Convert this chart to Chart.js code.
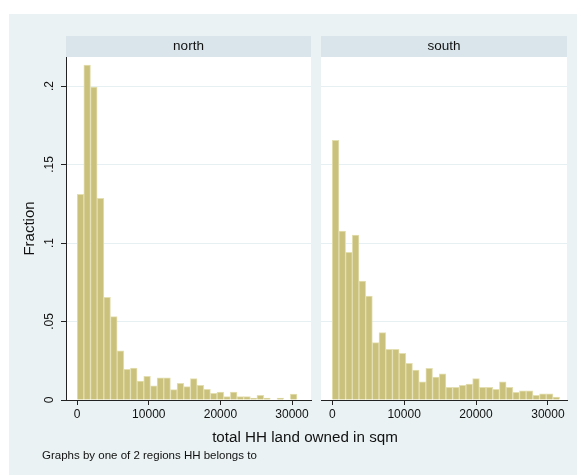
<!DOCTYPE html>
<html>
<head>
<meta charset="utf-8">
<script src="https://cdn.jsdelivr.net/npm/chart.js@4/dist/chart.umd.min.js"></script>
<style>
  body { margin: 0; background: #fff; }
  #frame {
    position: absolute; left: 9px; top: 14px; width: 568px; height: 461px;
    background: #eaf2f3; font-family: "Liberation Sans", Arial, sans-serif; color: #111;
  }
  canvas { position: absolute; top: 0; }
  #northChart { left: 0; }
  #southChart { left: 312px; }
  #xtitle { position: absolute; left: 0; width: 592px; top: 414px; text-align: center; font-size: 15.2px; }
  #note { position: absolute; left: 33px; top: 435px; font-size: 11.5px; }
</style>
</head>
<body>
<div id="frame">
  <canvas id="northChart" width="307" height="420"></canvas>
  <canvas id="southChart" width="256" height="420"></canvas>
  <div id="xtitle">total HH land owned in sqm</div>
  <div id="note">Graphs by one of 2 regions HH belongs to</div>
</div>
<script>
// histogram bins: 34 bins of equal width starting at 0 sqm
var binStart = 0, binWidth = 930, binCount = 34;
var regions = ['north', 'south'];
// fraction of households in each bin
var northFrac = [0.131, 0.2134, 0.1994, 0.1285, 0.0654, 0.0531, 0.0314, 0.0195, 0.0204, 0.0121,
  0.0151, 0.0091, 0.0142, 0.0142, 0.0066, 0.0106, 0.0085, 0.0136, 0.0093, 0.0068,
  0.0042, 0.0051, 0.0021, 0.0051, 0.0021, 0.0021, 0.0013, 0.003, 0.0013, 0,
  0.0013, 0, 0.0038, 0];
var southFrac = [0.1654, 0.1076, 0.0941, 0.1051, 0.0758, 0.0662, 0.0365, 0.0429, 0.0323, 0.0323,
  0.0297, 0.0234, 0.0191, 0.0115, 0.0202, 0.0146, 0.0166, 0.0081, 0.0081, 0.0094,
  0.0102, 0.0136, 0.0081, 0.0081, 0.0068, 0.0115, 0.0081, 0.0049, 0.0059, 0.0059,
  0.003, 0.004, 0.004, 0.0019];
var xTicks = [0, 10000, 20000, 30000];
var yTicks = [0, 0.05, 0.1, 0.15, 0.2];
var yTickLabels = ['0', '.05', '.1', '.15', '.2'];

var FONT = '"Liberation Sans", Arial, sans-serif';
var INK = '#111';

var binMids = [];
for (var i = 0; i < binCount; i++) binMids.push(binStart + (i + 0.5) * binWidth);

// white plot area plus the grey strip with the region name on top
var panelStrip = {
  id: 'panelStrip',
  beforeDraw: function (chart, args, opts) {
    var a = chart.chartArea, ctx = chart.ctx;
    ctx.save();
    ctx.fillStyle = '#fff';
    ctx.fillRect(a.left, a.top, a.right - a.left, a.bottom - a.top);
    ctx.fillStyle = '#d9e5ea';
    ctx.fillRect(a.left, a.top - 21, a.right - a.left, 21);
    ctx.fillStyle = INK;
    ctx.font = '13.5px ' + FONT;
    ctx.textAlign = 'center';
    ctx.textBaseline = 'middle';
    ctx.fillText(opts.text, (a.left + a.right) / 2, a.top - 10.5);
    ctx.restore();
  }
};

function makePanel(canvasId, name, values, showY) {
  var pts = values.map(function (v, i) { return { x: binMids[i], y: v }; });
  return new Chart(document.getElementById(canvasId), {
    type: 'bar',
    data: {
      datasets: [{
        data: pts,
        backgroundColor: 'rgb(201,193,124)',
        borderColor: 'rgb(228,223,178)',
        borderWidth: 1,
        barPercentage: 1,
        categoryPercentage: 1
      }]
    },
    plugins: [panelStrip],
    options: {
      responsive: false,
      animation: false,
      events: [],
      layout: { padding: { top: 43, left: 0, right: showY ? 5 : 10, bottom: 0 } },
      plugins: {
        legend: { display: false },
        tooltip: { enabled: false },
        panelStrip: { text: name }
      },
      scales: {
        x: {
          type: 'linear',
          min: -1560,
          max: 32650,
          offset: false,
          afterBuildTicks: function (s) { s.ticks = xTicks.map(function (v) { return { value: v }; }); },
          afterFit: function (s) { s.height = 34; },
          ticks: {
            autoSkip: false, maxRotation: 0, padding: 2, color: INK,
            font: { family: FONT, size: 12 },
            callback: function (v) { return String(v); }
          },
          grid: { offset: false, drawOnChartArea: false, tickLength: 5, tickColor: '#222' },
          border: { color: '#222', width: 1 }
        },
        y: {
          min: 0,
          max: 0.2185,
          afterBuildTicks: function (s) { s.ticks = yTicks.map(function (v) { return { value: v }; }); },
          afterFit: function (s) { s.width = showY ? 57 : 0; },
          ticks: {
            display: showY, minRotation: 90, maxRotation: 90, crossAlign: 'center', padding: 3,
            color: INK, font: { family: FONT, size: 12 },
            callback: function (v) { return yTickLabels[yTicks.indexOf(v)]; }
          },
          grid: { color: '#e6eff1', lineWidth: 1, drawTicks: showY, tickLength: 5, tickColor: '#222' },
          border: { display: showY, color: '#222', width: 1 },
          title: {
            display: showY, text: 'Fraction', color: INK,
            font: { family: FONT, size: 15 }, padding: { top: 12, bottom: 0 }
          }
        }
      }
    }
  });
}

makePanel('northChart', regions[0], northFrac, true);
makePanel('southChart', regions[1], southFrac, false);
</script>
</body>
</html>
